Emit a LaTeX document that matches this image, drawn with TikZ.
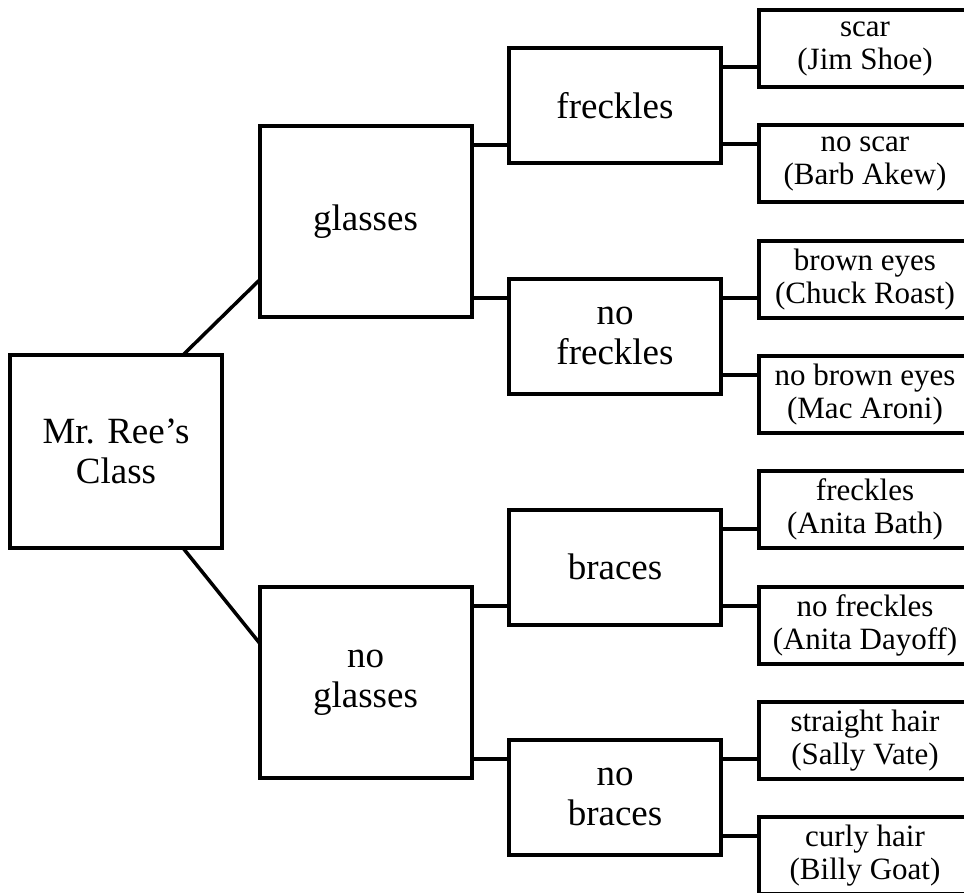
\documentclass[tikz,border=0pt]{standalone}
\usepackage{fontspec}
\setmainfont{Liberation Serif}
\usetikzlibrary{
  positioning      % leaves placed below one another
}
\tikzset{
    node distance=38.3pt,
    every node/.style = {
        rectangle,
        draw,
        line width=4pt,
        align=center,
        inner sep=0pt,
        outer sep=0pt
    },
    trait/.append style = {minimum width=212pt, font=\fontsize{37}{40}\selectfont},
    root/.append style = {trait, minimum height=193pt},
    split/.append style = {trait, minimum height=191pt},
    sub/.append style = {trait, minimum height=115pt},
    leaf/.append style = {minimum width=212pt, minimum height=77pt,
        font=\fontsize{31}{33}\selectfont}
}

\begin{document}
\begin{tikzpicture}[x=1pt, y=-1pt, line width=4pt]

  \useasboundingbox (0,0) rectangle (964,892);

  %% root
  \node [root] (class) at (116,451.5) {Mr. Ree's\\Class};

  %% first split
  \node [split] (glasses) at (365.5,221.5) {glasses};
  \node [split] (noglasses) at (365.5,682.5) {no\\glasses};

  \draw [line width=3.5pt] ([xshift=-39pt]class.north east) -- ([yshift=37pt]glasses.south west);
  \draw [line width=3.5pt] ([xshift=-39pt]class.south east) -- ([yshift=-56pt]noglasses.north west);

  %% second split
  \node [sub] (freckles) at (615,105.5) {freckles};
  \node [sub] (nofreckles) at (615,336) {no\\freckles};
  \node [sub] (braces) at (615,567) {braces};
  \node [sub] (nobraces) at (615,797) {no\\braces};

  \draw ([yshift=-19pt]glasses.north east) -- ([yshift=-19pt]glasses.north east -| freckles.west);
  \draw ([yshift=19pt]glasses.south east) -- ([yshift=19pt]glasses.south east -| nofreckles.west);
  \draw ([yshift=-19pt]noglasses.north east) -- ([yshift=-19pt]noglasses.north east -| braces.west);
  \draw ([yshift=19pt]noglasses.south east) -- ([yshift=19pt]noglasses.south east -| nobraces.west);

  %% leaves
  \node [leaf] (scar) at (865,48.5) {scar\\(Jim Shoe)};
  \node [leaf, below=of scar] (noscar) {no scar\\(Barb Akew)};
  \node [leaf, below=of noscar] (brown) {brown eyes\\(Chuck Roast)};
  \node [leaf, below=of brown] (nobrown) {no brown eyes\\(Mac Aroni)};
  \node [leaf, below=of nobrown] (frk) {freckles\\(Anita Bath)};
  \node [leaf, below=of frk] (nofrk) {no freckles\\(Anita Dayoff)};
  \node [leaf, below=of nofrk] (straight) {straight hair\\(Sally Vate)};
  \node [leaf, below=of straight] (curly) {curly hair\\(Billy Goat)};

  \draw ([yshift=-19pt]freckles.north east) -- ([yshift=-19pt]freckles.north east -| scar.west);
  \draw ([yshift=19pt]freckles.south east) -- ([yshift=19pt]freckles.south east -| noscar.west);
  \draw ([yshift=-19pt]nofreckles.north east) -- ([yshift=-19pt]nofreckles.north east -| brown.west);
  \draw ([yshift=19pt]nofreckles.south east) -- ([yshift=19pt]nofreckles.south east -| nobrown.west);
  \draw ([yshift=-19pt]braces.north east) -- ([yshift=-19pt]braces.north east -| frk.west);
  \draw ([yshift=19pt]braces.south east) -- ([yshift=19pt]braces.south east -| nofrk.west);
  \draw ([yshift=-19pt]nobraces.north east) -- ([yshift=-19pt]nobraces.north east -| straight.west);
  \draw ([yshift=19pt]nobraces.south east) -- ([yshift=19pt]nobraces.south east -| curly.west);

\end{tikzpicture}
\end{document}
